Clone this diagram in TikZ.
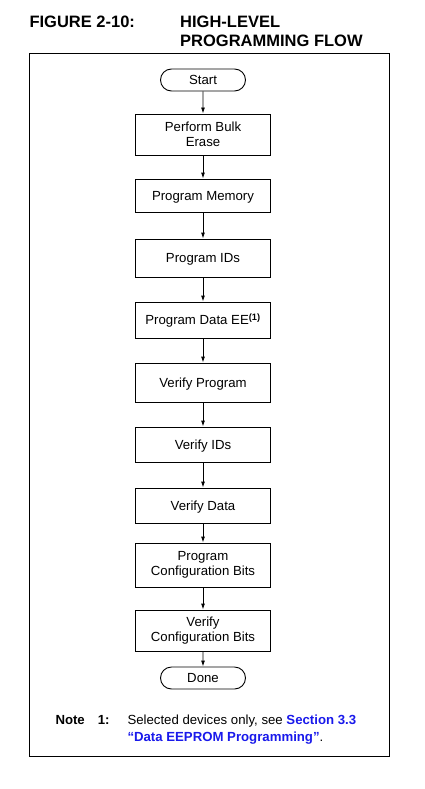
\documentclass[tikz,border=0pt]{standalone}
\usepackage{fontspec}
\setmainfont{Liberation Sans}
\usetikzlibrary{shapes,arrows.meta}
\definecolor{linkblue}{RGB}{25,25,235}

\begin{document}
\begin{tikzpicture}[x=1pt,y=-1pt]
\tikzstyle{every node}=[font=\fontsize{13.2}{15.5}\selectfont, inner sep=0pt]
\tikzstyle{process}=[
	rectangle,
	draw,
	line width=0.9pt,
	minimum width=135pt,
	align=center ]
\tikzstyle{oneline}=[text height=9.5pt, text depth=0pt]
\tikzstyle{terminal}=[rounded rectangle, draw, line width=0.9pt, minimum width=85pt, minimum height=22pt, oneline]
\tikzstyle{flow}=[line width=0.9pt, -{Latex[length=6pt,width=4pt]}]
\tikzstyle{caption}=[anchor=base west, font=\bfseries\fontsize{16.5}{19.4}\selectfont]
\tikzstyle{notetext}=[anchor=base west]
\useasboundingbox (0,0) rectangle (425,789);

\node[caption] (fig) at (29.3,27.3) {FIGURE 2-10:};
\node[caption] (title1) at (180,27.3) {HIGH-LEVEL};
\node[caption] (title2) at (180,46.7) {PROGRAMMING FLOW};

\draw[line width=0.9pt] (29.5,53.5) rectangle (389.5,756);

\node[terminal] (start) at (203,80) {Start};
\node[process, minimum height=41pt] (erase) at (203,134.5) {Perform Bulk\\Erase};
\node[process, oneline, minimum height=33pt] (mem) at (203,195.5) {Program Memory};
\node[process, oneline, minimum height=38pt] (ids) at (203,258) {Program IDs};
\node[process, oneline, minimum height=36pt] (dataee) at (203,320) {Program Data EE\textsuperscript{\textbf{(1)}}};
\node[process, oneline, minimum height=39pt] (vprog) at (203,382.5) {Verify Program};
\node[process, oneline, minimum height=35pt] (vids) at (203,444.5) {Verify IDs};
\node[process, oneline, minimum height=35pt] (vdata) at (203,505.5) {Verify Data};
\node[process, minimum height=44pt] (pconf) at (203,565) {Program\\Configuration Bits};
\node[process, minimum height=41pt] (vconf) at (203,630.5) {Verify\\Configuration Bits};
\node[terminal] (done) at (203,678) {Done};

\draw[flow] (start) -- (erase);
\draw[flow] (erase) -- (mem);
\draw[flow] (mem) -- (ids);
\draw[flow] (ids) -- (dataee);
\draw[flow] (dataee) -- (vprog);
\draw[flow] (vprog) -- (vids);
\draw[flow] (vids) -- (vdata);
\draw[flow] (vdata) -- (pconf);
\draw[flow] (pconf) -- (vconf);
\draw[flow] (vconf) -- (done);

% footnote
\node[notetext, font=\bfseries\fontsize{13.2}{15.5}\selectfont] (note) at (55.3,724) {Note};
\node[notetext, font=\bfseries\fontsize{13.2}{15.5}\selectfont] (notenum) at (97.7,724) {1:};
\node[notetext] (notea) at (127.3,724) {Selected devices only, see \textcolor{linkblue}{\textbf{Section 3.3}}};
\node[notetext] (noteb) at (127.3,741.3) {\textcolor{linkblue}{\textbf{“Data EEPROM Programming”}}.};
\end{tikzpicture}
\end{document}
